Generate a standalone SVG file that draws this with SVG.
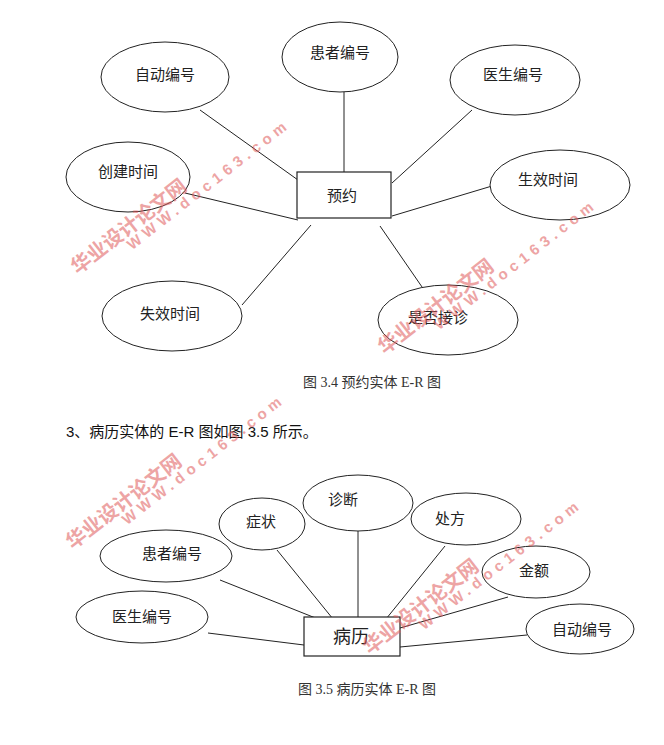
<svg xmlns="http://www.w3.org/2000/svg" width="664" height="745" viewBox="0 0 664 745">
<style>
.e{fill:#fff;stroke:#222;stroke-width:1}
.b{fill:#fff;stroke:#222;stroke-width:1.2}
.t{font-family:"Liberation Serif","Noto Sans CJK SC",serif;font-size:15px;fill:#222;text-anchor:middle;dominant-baseline:central}
.c{font-family:"Liberation Serif","Noto Sans CJK SC",serif;font-size:14px;fill:#333;text-anchor:middle}
.w{font-family:"Liberation Sans","Noto Sans CJK SC",sans-serif;font-weight:bold;fill:#e05a5a;opacity:0.55;text-anchor:middle}
#conn line{stroke:#222;stroke-width:1}
</style>
<rect width="664" height="745" fill="#fff"/>
<g id="conn">
<line x1="200" y1="110" x2="298" y2="180"/>
<line x1="344" y1="92" x2="344" y2="176"/>
<line x1="472" y1="110" x2="392" y2="183"/>
<line x1="185" y1="193" x2="298" y2="220"/>
<line x1="492" y1="186" x2="392" y2="216"/>
<line x1="242" y1="305" x2="311" y2="225"/>
<line x1="431" y1="300" x2="380" y2="226"/>
<line x1="277" y1="550" x2="333" y2="619"/>
<line x1="358" y1="531" x2="358" y2="619"/>
<line x1="445" y1="546" x2="386" y2="619"/>
<line x1="220" y1="580" x2="318" y2="619"/>
<line x1="508" y1="597" x2="400" y2="628"/>
<line x1="208" y1="633" x2="304" y2="645"/>
<line x1="527" y1="635" x2="400" y2="647"/>
</g>
<g id="yuyue"><rect class="b" x="297" y="172" width="94" height="46"/><text class="t" x="342" y="196">预约</text></g>
<g id="a1"><ellipse class="e" cx="165" cy="77" rx="64" ry="35"/><text class="t" x="165" y="75">自动编号</text></g>
<g id="a2"><ellipse class="e" cx="340" cy="57" rx="58" ry="35"/><text class="t" x="340" y="53">患者编号</text></g>
<g id="a3"><ellipse class="e" cx="515" cy="80" rx="65" ry="35"/><text class="t" x="513" y="75">医生编号</text></g>
<g id="a4"><ellipse class="e" cx="128" cy="177" rx="62" ry="35"/><text class="t" x="128" y="172">创建时间</text></g>
<g id="a5"><ellipse class="e" cx="560" cy="185" rx="70" ry="35"/><text class="t" x="548" y="180">生效时间</text></g>
<g id="a6"><ellipse class="e" cx="172" cy="316" rx="70" ry="35"/><text class="t" x="170" y="314">失效时间</text></g>
<g id="a7"><ellipse class="e" cx="448" cy="320" rx="70" ry="35"/><text class="t" x="438" y="318">是否接诊</text></g>
<text class="c" x="372" y="387">图 3.4  预约实体 E-R 图</text>
<text x="66" y="437" style="font-family:'Liberation Sans','Noto Sans CJK SC',sans-serif;font-size:15px;fill:#111">3、病历实体的 E-R 图如图 3.5 所示。</text>
<g id="bingli"><rect class="b" x="304" y="617" width="96" height="39"/><text style="font-family:'Liberation Serif','Noto Sans CJK SC',serif;font-size:18px;fill:#222;text-anchor:middle;dominant-baseline:central" x="351" y="637">病历</text></g>
<g id="b1"><ellipse class="e" cx="262" cy="524" rx="43" ry="26"/><text class="t" x="261" y="522">症状</text></g>
<g id="b2"><ellipse class="e" cx="358" cy="503" rx="55" ry="28"/><text class="t" x="343" y="500">诊断</text></g>
<g id="b3"><ellipse class="e" cx="466" cy="519" rx="55" ry="26"/><text class="t" x="450" y="519">处方</text></g>
<g id="b4"><ellipse class="e" cx="166" cy="556" rx="66" ry="26"/><text class="t" x="172" y="554">患者编号</text></g>
<g id="b5"><ellipse class="e" cx="536" cy="572" rx="54" ry="26"/><text class="t" x="534" y="571">金额</text></g>
<g id="b6"><ellipse class="e" cx="142" cy="617" rx="66" ry="26"/><text class="t" x="142" y="617">医生编号</text></g>
<g id="b7"><ellipse class="e" cx="580" cy="629" rx="54" ry="25"/><text class="t" x="582" y="630">自动编号</text></g>
<text class="c" x="367" y="694">图 3.5  病历实体 E-R 图</text>
<g id="watermarks">
<g transform="translate(133,232) rotate(-38)"><text class="w" x="0" y="0" font-size="20">华业设计论文网</text><text class="w" x="89" y="14" font-size="15" letter-spacing="5">WWW.doc163.com</text></g>
<g transform="translate(440,312) rotate(-38)"><text class="w" x="0" y="0" font-size="20">华业设计论文网</text><text class="w" x="89" y="14" font-size="15" letter-spacing="5">WWW.doc163.com</text></g>
<g transform="translate(128,507) rotate(-38)"><text class="w" x="0" y="0" font-size="20">华业设计论文网</text><text class="w" x="89" y="14" font-size="15" letter-spacing="5">WWW.doc163.com</text></g>
<g transform="translate(425,612) rotate(-38)"><text class="w" x="0" y="0" font-size="20">华业设计论文网</text><text class="w" x="89" y="14" font-size="15" letter-spacing="5">WWW.doc163.com</text></g>
</g>
</svg>
